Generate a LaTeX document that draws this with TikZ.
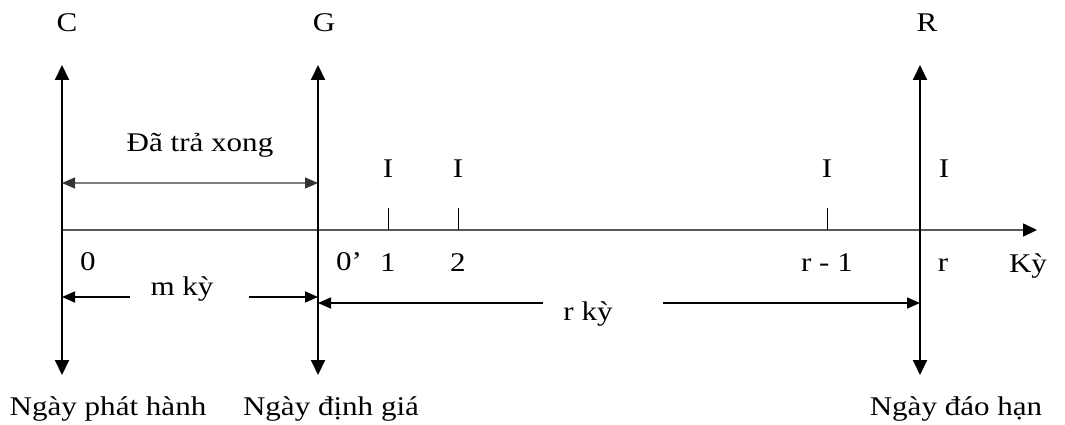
\documentclass[tikz,border=0pt]{standalone}
\usepackage{fontspec}
\setmainfont[FakeStretch=1.15]{Liberation Serif}
\usetikzlibrary{arrows.meta}
\newcommand\bondfont{\fontsize{27}{32}\selectfont}
\begin{document}
\begin{tikzpicture}[x=1pt,y=-1pt,
    bondAxis/.style={-{Triangle[length=14pt,width=13pt,color=black]},line width=1.6pt,black!65},
    bondDate/.style={{Triangle[length=15pt,width=14pt]}-{Triangle[length=15pt,width=14pt]},line width=2pt},
    bondTick/.style={line width=1pt},
    bondSpan/.style={-{Triangle[length=13pt,width=11pt]},line width=1.6pt},
    bondPaid/.style={{Triangle[length=13pt,width=11pt,color=black!80]}-{Triangle[length=13pt,width=11pt,color=black!80]},line width=1.3pt,black!50},
    bondTxt/.style={font=\bondfont,inner sep=0pt,anchor=base},
]
\useasboundingbox (0,0) rectangle (1065,425);
% Time axis
\coordinate (ax0) at (62,230);
\coordinate (ax1) at (1037,230);
\draw[bondAxis] (ax0) -- (ax1);
\node[bondTxt] (ky) at (1028,272) {Kỳ};
% Date lines C, G, R
\coordinate (Ctop) at (62,65);
\coordinate (Cbot) at (62,375);
\coordinate (Gtop) at (318,65);
\coordinate (Gbot) at (318,375);
\coordinate (Rtop) at (920,65);
\coordinate (Rbot) at (920,375);
\draw[bondDate] (Cbot) -- (Ctop);
\draw[bondDate] (Gbot) -- (Gtop);
\draw[bondDate] (Rbot) -- (Rtop);
\node[bondTxt] (cC) at (67,32) {C};
\node[bondTxt] (cG) at (324,32) {G};
\node[bondTxt] (cR) at (927,32) {R};
\node[bondTxt] (dIssue) at (108,415) {Ngày phát hành};
\node[bondTxt] (dValue) at (331,415) {Ngày định giá};
\node[bondTxt] (dMature) at (956,415) {Ngày đáo hạn};
% Paid part
\coordinate (paidL) at (62,183);
\coordinate (paidR) at (318,183);
\draw[bondPaid] (paidL) -- (paidR);
\node[bondTxt] (paid) at (200,151) {Đã trả xong};
% Coupon ticks
\foreach \name/\x/\lab in {t1/388/1, t2/458/2, tr/827/r - 1} {
  \coordinate (\name top) at (\x,208);
  \coordinate (\name) at (\x,230);
  \draw[bondTick] (\name top) -- (\name);
  \node[bondTxt] (\name I) at (\x,177) {I};
  \node[bondTxt] (\name lab) at (\x,271) {\lab};
}
\node[bondTxt] (rI) at (944,177) {I};
\node[bondTxt] (rlab) at (943,271) {r};
\node[bondTxt] (zero) at (88,270) {0};
\node[bondTxt] (zeroG) at (349,270) {0’};
% m periods
\node[bondTxt] (mky) at (182,295) {m kỳ};
\coordinate (mL) at (130,297);
\coordinate (mR) at (249,297);
\coordinate (mC) at (62,297);
\coordinate (mG) at (318,297);
\draw[bondSpan] (mL) -- (mC);
\draw[bondSpan] (mR) -- (mG);
% r periods
\node[bondTxt] (rky) at (588,320) {r kỳ};
\coordinate (rL) at (543,303);
\coordinate (rR) at (663,303);
\coordinate (rG) at (318,303);
\coordinate (rE) at (920,303);
\draw[bondSpan] (rL) -- (rG);
\draw[bondSpan] (rR) -- (rE);
\end{tikzpicture}
\end{document}
